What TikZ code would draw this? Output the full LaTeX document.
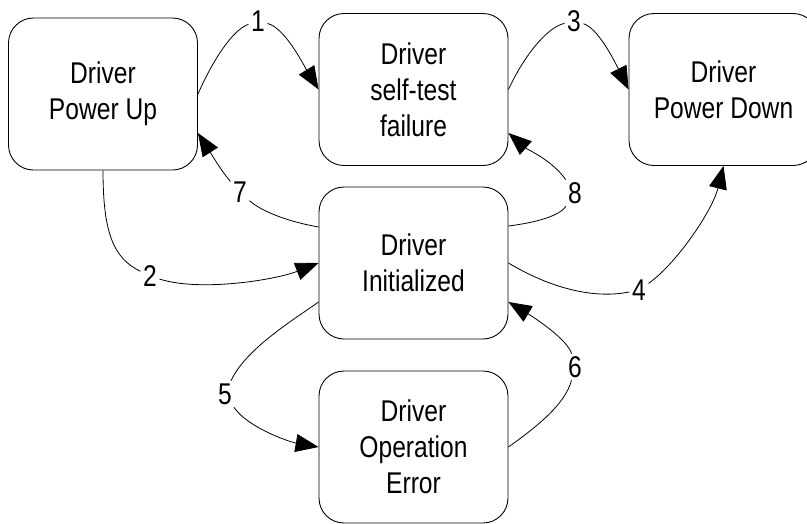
\documentclass[tikz,border=0pt]{standalone}
\usepackage{fontspec}
\setmainfont{Liberation Sans}[FakeStretch=0.82]
\usetikzlibrary{arrows.meta}
\begin{document}
\begin{tikzpicture}[x=1pt,y=-1pt,
  statebox/.style={draw, line width=0.9pt, rounded corners=25pt,
    minimum width=189pt, minimum height=152pt, inner sep=0pt,
    align=center, font=\fontsize{30}{36}\selectfont},
  num/.style={inner sep=2.5pt, font=\fontsize{30}{36}\selectfont},
  wire/.style={line width=0.8pt},
  link/.style={wire, -{Triangle[length=23pt,width=18pt]}}]
\useasboundingbox (0,0) rectangle (807,523);
\fill[white] (0,0) rectangle (807,523);

% states
\node[statebox] (pu) at (103,94)    {Driver\\Power Up};
\node[statebox] (st) at (413.5,89.5) {Driver\\self-test\\failure};
\node[statebox] (pd) at (723.5,89.5) {Driver\\Power Down};
\node[statebox] (in) at (413.5,263)  {Driver\\Initialized};
\node[statebox] (oe) at (413.5,447)  {Driver\\Operation\\Error};

% transition numbers
\node[num] (l1) at (258,21)  {1};
\node[num] (l2) at (150,276) {2};
\node[num] (l3) at (574,21)  {3};
\node[num] (l4) at (639,290) {4};
\node[num] (l5) at (225,394) {5};
\node[num] (l6) at (575,367) {6};
\node[num] (l7) at (240,192) {7};
\node[num] (l8) at (575,193) {8};

% 1: power up -> self-test failure
\draw[wire] (pu.east) .. controls (212,62) and (232,30) .. (l1);
\draw[link] (l1) .. controls (285,28) and (303,64) .. (st.west);

% 3: self-test failure -> power down
\draw[wire] (st.east) .. controls (522,60) and (545,28) .. (l3);
\draw[link] (l3) .. controls (598,28) and (615,62) .. (pd.west);

% 2: power up -> initialized
\draw[wire] (pu.south) .. controls (103,232) and (113,258) .. (l2);
\draw[link] (l2) .. controls (200,292) and (275,280) .. (in.west);

% 7: initialized -> power up
\draw[wire] ([yshift=36pt]in.west) .. controls (290,222) and (262,212) .. (l7);
\draw[link] (l7) .. controls (222,172) and (212,155) .. ([yshift=-39pt]pu.east);

% 8: initialized -> self-test failure
\draw[wire] ([yshift=37pt]in.east) .. controls (540,222) and (560,215) .. (l8);
\draw[link] (l8) .. controls (552,160) and (528,150) .. ([yshift=-43.5pt]st.east);

% 4: initialized -> power down
\draw[wire] (in.east) .. controls (545,285) and (590,300) .. (l4);
\draw[link] (l4) .. controls (675,265) and (712,212) .. (pd.south);

% 5: initialized -> operation error
\draw[wire] ([yshift=-39pt]in.west) .. controls (290,322) and (245,350) .. (l5);
\draw[link] (l5) .. controls (248,428) and (290,442) .. (oe.west);

% 6: operation error -> initialized
\draw[wire] (oe.east) .. controls (535,428) and (565,405) .. (l6);
\draw[link] (l6) .. controls (568,340) and (535,318) .. ([yshift=-39pt]in.east);
\end{tikzpicture}
\end{document}
